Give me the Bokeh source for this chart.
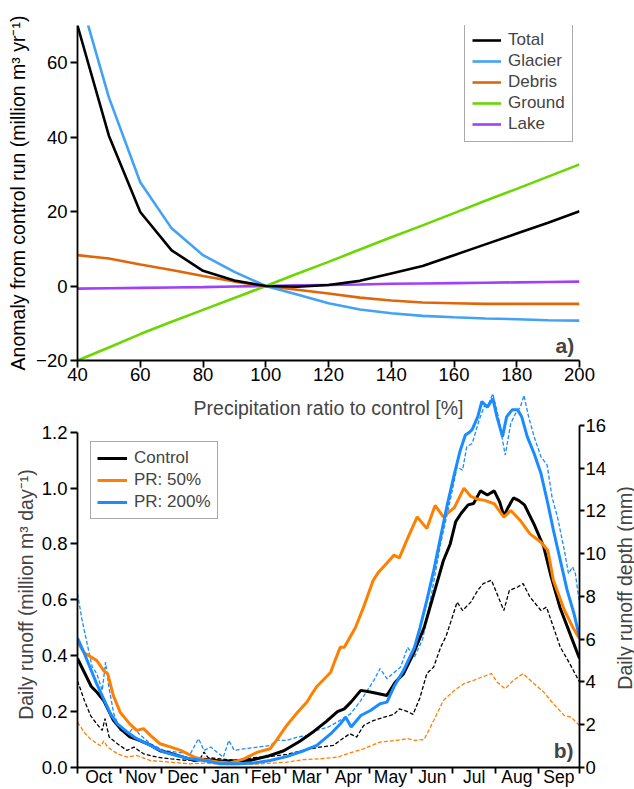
import math
from bokeh.plotting import figure
from bokeh.layouts import column, row
from bokeh.models import (FixedTicker, LinearAxis, Range1d, Legend, LegendItem,
                          Label, NumeralTickFormatter)
from bokeh.embed import file_html
from bokeh.resources import INLINE

FONT = "Liberation Sans"
FS_TICK = "18.5px"
FS_MONTH = "17.5px"
FS_TITLE = "19.5px"
FS_LEG = "17px"

# ---------------- Panel a data ----------------
precip = [40, 50, 60, 70, 80, 90, 100, 110, 120, 130, 140, 150, 160, 170, 180, 190, 200]
total = [70, 40.4, 19.9, 9.6, 4.1, 1.5, 0, -0.2, 0.3, 1.4, 3.4, 5.4, 8.3, 11.2, 14.1, 17.0, 20.1]
glacier = [80, 50.7, 27.9, 15.5, 8.3, 3.8, 0, -2.3, -4.6, -6.3, -7.3, -8.0, -8.4, -8.7, -8.9, -9.2, -9.3]
debris = [8.3, 7.4, 5.8, 4.3, 2.7, 1.2, 0, -1.0, -2.0, -3.1, -3.9, -4.4, -4.6, -4.8, -4.8, -4.8, -4.8]
ground = [-20, -16.5, -12.9, -9.6, -6.4, -3.2, 0, 3.3, 6.5, 9.8, 13.1, 16.3, 19.6, 22.9, 26.1, 29.4, 32.7]
lake = [-0.7, -0.6, -0.5, -0.4, -0.3, -0.1, 0, 0.2, 0.3, 0.4, 0.6, 0.7, 0.8, 0.9, 1.0, 1.1, 1.2]
series_a = ["Total", "Glacier", "Debris", "Ground", "Lake"]
x_ticks_a = [40, 60, 80, 100, 120, 140, 160, 180, 200]
y_ticks_a = [-20, 0, 20, 40, 60]

# ---------------- Panel b data (day of hydrological year from 1 Oct) ----------------
month_names = ["Oct", "Nov", "Dec", "Jan", "Feb", "Mar", "Apr", "May", "Jun", "Jul", "Aug", "Sep"]
month_edges = [0, 31, 61, 92, 123, 151, 182, 212, 243, 273, 304, 335, 365]

control_day = [0, 5, 10, 14, 19, 22, 26, 31, 38, 46, 53, 60, 68, 77, 85, 92, 104, 114, 126, 138,
               150, 162, 172, 181, 189, 194, 199, 206, 213, 225, 231, 237, 244, 252, 259, 266, 271, 275, 279, 284,
               288, 293, 298, 303, 307, 310, 313, 317, 321, 325, 332, 339, 344, 351, 358, 365]
control_q = [0.39, 0.34, 0.29, 0.27, 0.24, 0.21, 0.17, 0.14, 0.11, 0.095, 0.08, 0.06, 0.05, 0.037, 0.025, 0.03, 0.023, 0.024, 0.026, 0.04,
             0.06, 0.095, 0.13, 0.165, 0.2, 0.21, 0.235, 0.276, 0.27, 0.258, 0.305, 0.335, 0.405, 0.5, 0.62, 0.74, 0.8, 0.88, 0.91, 0.94,
             0.945, 0.99, 0.975, 0.99, 0.95, 0.9, 0.93, 0.965, 0.955, 0.94, 0.87, 0.79, 0.69, 0.57, 0.48, 0.39]

pr50_day = [0, 5, 10, 14, 19, 22, 26, 31, 38, 43, 48, 53, 60, 68, 75, 85, 92, 102, 111, 121,
            131, 140, 145, 152, 160, 167, 170, 174, 179, 182, 184, 187, 191, 194, 202, 208, 215, 219, 225, 230,
            234, 240, 247, 254, 260, 266, 274, 281, 286, 291, 296, 303, 310, 315, 322, 329, 337, 342, 346, 354,
            360, 365]
pr50_q = [0.45, 0.41, 0.395, 0.383, 0.347, 0.335, 0.258, 0.198, 0.156, 0.133, 0.139, 0.115, 0.085, 0.073, 0.061, 0.037, 0.028, 0.02, 0.016, 0.031,
          0.055, 0.067, 0.1, 0.15, 0.198, 0.235, 0.26, 0.29, 0.315, 0.33, 0.34, 0.38, 0.43, 0.43, 0.5, 0.574, 0.67, 0.7, 0.732, 0.76,
          0.75, 0.82, 0.897, 0.855, 0.938, 0.897, 0.93, 1.0, 0.97, 0.96, 0.956, 0.944, 0.896, 0.92, 0.884, 0.836, 0.806, 0.777, 0.67, 0.563,
          0.503, 0.461]

pr200_day = [0, 5, 10, 14, 19, 24, 29, 36, 43, 53, 63, 72, 82, 92, 104, 116, 128, 140, 152, 165,
             174, 184, 191, 195, 199, 206, 213, 220, 225, 230, 237, 245, 249, 254, 259, 264, 269, 274, 278, 282,
             285, 287, 291, 294, 298, 302, 305, 309, 312, 316, 320, 323, 327, 332, 337, 342, 346, 351, 356, 361, 365]
pr200_q = [0.463, 0.408, 0.347, 0.299, 0.246, 0.192, 0.156, 0.127, 0.103, 0.079, 0.055, 0.043, 0.031, 0.025, 0.013, 0.013, 0.016, 0.025, 0.039, 0.061,
           0.079, 0.12, 0.156, 0.18, 0.145, 0.186, 0.204, 0.228, 0.234, 0.288, 0.347, 0.43, 0.5, 0.598, 0.705, 0.825, 0.944, 1.05, 1.13, 1.19,
           1.2, 1.21, 1.255, 1.31, 1.29, 1.32, 1.255, 1.184, 1.255, 1.28, 1.28, 1.255, 1.184, 1.124, 1.052, 0.944, 0.85, 0.742, 0.635, 0.551, 0.467]

control_d_day = [0, 5, 9.5, 14, 18, 20, 23, 29, 36, 41, 48, 58, 68, 80, 89, 92, 95, 104, 116, 128,
                 140, 152, 164, 176, 186, 191, 198, 203, 208, 215, 223, 230, 234, 240, 244, 249, 254, 259, 264, 268,
                 271, 276, 280, 286, 291, 295, 301, 305, 310, 314, 320, 324, 329, 337, 341, 346, 351, 358, 365]
control_d_q = [0.31, 0.24, 0.186, 0.156, 0.133, 0.175, 0.109, 0.085, 0.061, 0.073, 0.049, 0.037, 0.031, 0.025, 0.03, 0.055, 0.035, 0.031, 0.025, 0.035,
               0.039, 0.047, 0.061, 0.073, 0.079, 0.097, 0.121, 0.109, 0.15, 0.168, 0.18, 0.19, 0.21, 0.2, 0.19, 0.25, 0.336, 0.36, 0.43, 0.47,
               0.515, 0.592, 0.562, 0.592, 0.634, 0.658, 0.67, 0.622, 0.562, 0.634, 0.646, 0.658, 0.61, 0.562, 0.574, 0.503, 0.431, 0.371, 0.306]

pr50_d_day = [0, 5, 9.5, 17, 19, 22, 29, 36, 43, 53, 68, 82, 92, 110, 130, 152, 164, 176, 189, 196,
              208, 220, 232, 240, 245, 252, 259, 266, 274, 281, 288, 294, 301, 305, 311, 317, 324, 332, 339, 346,
              354, 359, 365]
pr50_d_q = [0.162, 0.125, 0.101, 0.077, 0.095, 0.073, 0.049, 0.037, 0.043, 0.025, 0.019, 0.013, 0.016, 0.01, 0.012, 0.019, 0.028, 0.031, 0.037, 0.049,
            0.067, 0.091, 0.097, 0.103, 0.097, 0.1, 0.168, 0.24, 0.276, 0.3, 0.312, 0.324, 0.336, 0.306, 0.282, 0.312, 0.336, 0.3, 0.27, 0.228,
            0.186, 0.18, 0.15]

pr200_d_day = [0, 3.4, 7, 10.7, 14, 18, 20.4, 22.8, 26.4, 31, 37, 41, 44.6, 53, 63, 72, 82, 88, 92, 97,
               101.5, 106, 110, 114, 121, 131, 140, 145, 152, 160, 167, 174, 182, 189, 198.5, 206, 215.5, 220, 225, 235,
               240, 245, 251, 257, 264, 271, 276, 280, 283, 287, 292, 295.5, 299, 302, 306, 311, 315, 318.5, 322, 324.6,
               328, 332, 337, 341.5, 345, 349, 354, 357, 360, 362, 365]
pr200_d_q = [0.622, 0.526, 0.443, 0.36, 0.336, 0.276, 0.377, 0.288, 0.192, 0.133, 0.121, 0.145, 0.121, 0.085, 0.061, 0.055, 0.049, 0.103, 0.061, 0.073,
             0.055, 0.037, 0.097, 0.061, 0.067, 0.073, 0.079, 0.097, 0.097, 0.109, 0.115, 0.133, 0.144, 0.163, 0.192, 0.24, 0.312, 0.354, 0.318, 0.36,
             0.43, 0.395, 0.46, 0.61, 0.8, 0.956, 1.076, 1.064, 1.148, 1.16, 1.243, 1.29, 1.303, 1.338, 1.255, 1.118, 1.231, 1.267, 1.29, 1.332,
             1.255, 1.184, 1.112, 1.082, 0.968, 0.896, 0.777, 0.694, 0.718, 0.694, 0.586]

left_ticks_b = [0.0, 0.2, 0.4, 0.6, 0.8, 1.0, 1.2]
right_ticks_b = [0, 2, 4, 6, 8, 10, 12, 14, 16]
MM_PER_MILLION = 13.07  # runoff depth conversion

# ---------------- colours ----------------
C_BLACK = "#000000"
C_GLACIER = "#42A2F5"
C_DEBRIS = "#E0660C"
C_GROUND = "#6AD800"
C_LAKE = "#A040FA"
C_ORANGE = "#FF8000"
C_BLUE = "#1A8CFF"


def style_axis(ax, tick_out=7):
    ax.axis_line_width = 1.8
    ax.axis_line_color = "black"
    ax.major_tick_line_width = 1.8
    ax.major_tick_out = tick_out
    ax.major_tick_in = 0
    ax.minor_tick_line_color = None
    ax.major_label_text_font = FONT
    ax.major_label_text_font_size = FS_TICK
    ax.major_label_text_color = "black"
    ax.axis_label_text_font = FONT
    ax.axis_label_text_font_size = FS_TITLE
    ax.axis_label_text_font_style = "normal"
    ax.axis_label_text_color = "black"


def style_legend(leg, pad, spacing, gw):
    leg.label_text_font = FONT
    leg.label_text_font_size = FS_LEG
    leg.border_line_color = "#555555"
    leg.border_line_width = 1.2
    leg.padding = pad
    leg.spacing = spacing
    leg.glyph_width = gw
    leg.glyph_height = 20
    leg.label_height = 20
    leg.label_standoff = 7
    leg.margin = 0
    leg.background_fill_alpha = 1


def bare_figure(w, h):
    f = figure(width=w, height=h, x_range=Range1d(0, w), y_range=Range1d(0, h),
               x_axis_type=None, y_axis_type=None,
               output_backend="svg", toolbar_location=None,
               min_border=0, min_border_left=0, min_border_right=0,
               min_border_top=0, min_border_bottom=0)
    f.grid.visible = False
    f.outline_line_color = None
    f.background_fill_color = None
    f.border_fill_color = None
    return f


# ================= Panel a =================
pa = figure(width=634, height=390, x_range=Range1d(40, 200), y_range=Range1d(-20, 70),
            output_backend="svg", toolbar_location=None,
            min_border_left=77, min_border_right=55, min_border_top=25, min_border_bottom=30)
pa.outline_line_color = None
pa.grid.visible = False
pa.background_fill_color = None
pa.border_fill_color = None

pa.xaxis.ticker = FixedTicker(ticks=x_ticks_a)
pa.yaxis.ticker = FixedTicker(ticks=y_ticks_a)
pa.yaxis.axis_label = "Anomaly from control run (million m\u00b3 yr\u207b\u00b9)"
for ax in pa.axis:
    style_axis(ax)
pa.yaxis.axis_label_standoff = 4
pa.yaxis.major_label_standoff = 3
pa.xaxis.major_label_standoff = 0

cols_a = [C_BLACK, C_GLACIER, C_DEBRIS, C_GROUND, C_LAKE]
vals_a = [total, glacier, debris, ground, lake]
rend_a = {}
for name, vals, col in reversed(list(zip(series_a, vals_a, cols_a))):
    rend_a[name] = pa.line(precip, vals, line_color=col, line_width=2.6)

leg_a = Legend(items=[LegendItem(label=n, renderers=[rend_a[n]]) for n in series_a],
               location=(387, 218))
style_legend(leg_a, 7, 1, 29)
pa.add_layout(leg_a)

pa.add_layout(Label(x=198.3, y=-16, text="a)", text_align="right", text_baseline="middle",
                    text_font=FONT, text_font_size="21px", text_font_style="bold"))

# ================= Panel b =================
HB = 399
top_b = 377.0 / 279.4
pb = figure(width=574, height=HB, x_range=Range1d(0, 365), y_range=Range1d(0, top_b),
            output_backend="svg", toolbar_location=None,
            min_border_left=39, min_border_right=33, min_border_top=0, min_border_bottom=22)
pb.outline_line_color = None
pb.grid.visible = False
pb.background_fill_color = None
pb.border_fill_color = None
pb.extra_y_ranges = {"mm": Range1d(0, top_b * MM_PER_MILLION)}

centers = [(month_edges[i] + month_edges[i + 1]) / 2 for i in range(12)]
pb.xaxis.ticker = FixedTicker(ticks=centers, minor_ticks=month_edges)
pb.xaxis.major_label_overrides = {c: m for c, m in zip(centers, month_names)}
for ax in pb.xaxis:
    style_axis(ax, tick_out=0)
    ax.major_label_text_font_size = FS_MONTH
    ax.major_tick_line_color = None
    ax.minor_tick_line_color = "black"
    ax.minor_tick_line_width = 1.8
    ax.minor_tick_out = 6
    ax.minor_tick_in = 0
    ax.major_label_standoff = -7

pb.yaxis.ticker = FixedTicker(ticks=left_ticks_b)
pb.yaxis.formatter = NumeralTickFormatter(format="0.0")
pb.yaxis.bounds = (0, 1.2)
for ax in pb.yaxis:
    style_axis(ax)
    ax.major_label_standoff = 3

ax_r = LinearAxis(y_range_name="mm", ticker=FixedTicker(ticks=right_ticks_b), bounds=(0, 16))
style_axis(ax_r, tick_out=5)
ax_r.major_label_standoff = 1
pb.add_layout(ax_r, "right")

pb.line(pr50_d_day, pr50_d_q, line_color=C_ORANGE, line_width=1.3, line_dash="4 2")
pb.line(control_d_day, control_d_q, line_color=C_BLACK, line_width=1.3, line_dash="4 2")
pb.line(pr200_d_day, pr200_d_q, line_color=C_BLUE, line_width=1.3, line_dash="4 2")
r_ctrl = pb.line(control_day, control_q, line_color=C_BLACK, line_width=3)
r_50 = pb.line(pr50_day, pr50_q, line_color=C_ORANGE, line_width=3)
r_200 = pb.line(pr200_day, pr200_q, line_color=C_BLUE, line_width=3)

leg_b = Legend(items=[LegendItem(label="Control", renderers=[r_ctrl]),
                      LegendItem(label="PR: 50%", renderers=[r_50]),
                      LegendItem(label="PR: 200%", renderers=[r_200])],
               location=(13, 248))
style_legend(leg_b, 6, 2, 30)
pb.add_layout(leg_b)

pb.add_layout(Label(x=360.6, y=0.061, text="b)", text_align="right", text_baseline="middle",
                    text_font=FONT, text_font_size="21px", text_font_style="bold"))
# x-axis title of panel a (it sits over the top of panel b's frame)
pb.add_layout(Label(x=182.5, y=(767 - 407) / 279.4, text="Precipitation ratio to control [%]",
                    text_align="center", text_baseline="middle",
                    text_font=FONT, text_font_size=FS_TITLE))

# axis titles of panel b, centred on the labelled part of each axis
left_t = bare_figure(38, HB)
left_t.add_layout(Label(x=25, y=183, text="Daily runoff (million m\u00b3 day\u207b\u00b9)",
                        angle=math.pi / 2, text_align="center", text_baseline="middle",
                        text_font=FONT, text_font_size=FS_TITLE))
right_t = bare_figure(22, HB)
right_t.add_layout(Label(x=12, y=190, text="Daily runoff depth (mm)",
                         angle=math.pi / 2, text_align="center", text_baseline="middle",
                         text_font=FONT, text_font_size=FS_TITLE))

layout = column(pa, row(left_t, pb, right_t, spacing=0), spacing=0)
open("out.html", "w").write(file_html(layout, INLINE))
